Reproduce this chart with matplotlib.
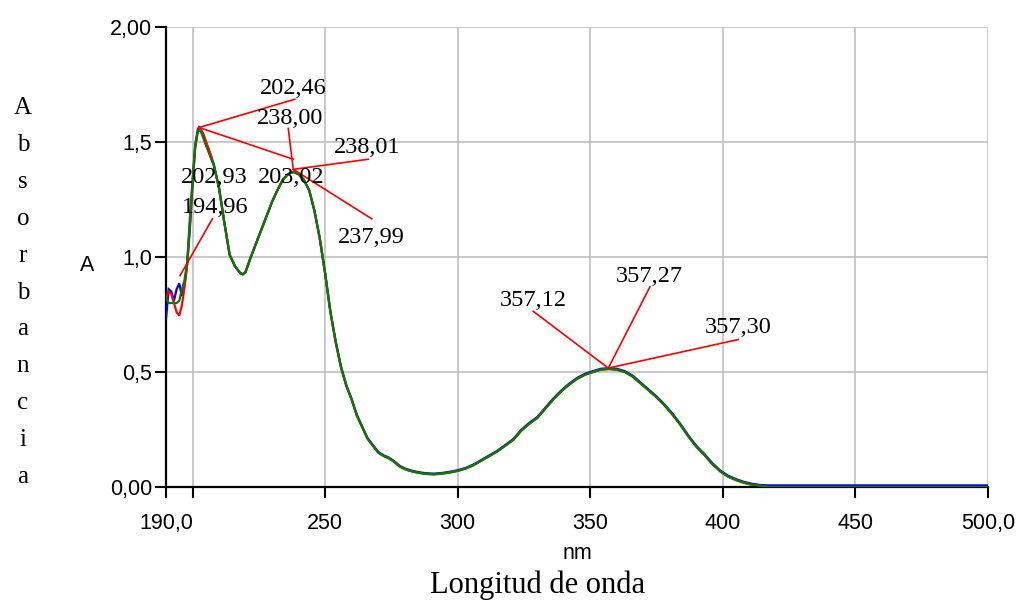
import matplotlib
matplotlib.use("Agg")
import matplotlib.pyplot as plt
from matplotlib.transforms import ScaledTranslation

# ---------------- data ----------------
wavelength = [190, 191, 192, 193, 194, 195, 196, 197, 198, 199, 200, 201, 202,
              202.5, 203, 204, 205, 206, 207, 208,
              210, 212, 214, 216, 218, 219, 220,
              222, 224, 226, 228, 230, 232, 234, 236, 238, 240, 242, 244, 246, 248, 250,
              252, 254, 256, 258, 260, 262, 264, 266, 268, 270, 272, 274, 276, 278, 280, 282,
              285, 288, 291, 294, 297, 300, 303, 306, 309, 312, 315, 318, 321, 324, 327,
              330, 333, 336, 339, 342, 345, 348, 351, 354, 357, 360, 363, 366, 369, 372,
              375, 378, 381, 384, 387, 390, 393, 396, 399, 402, 405, 408, 411, 414, 417,
              420, 450, 500]

abs_blue = [0.73, 0.86, 0.85, 0.81, 0.86, 0.885, 0.83, 0.88, 0.97, 1.12, 1.32, 1.48, 1.555,
            1.565, 1.56, 1.53, 1.495, 1.465, 1.435, 1.405,
            1.30, 1.15, 1.01, 0.96, 0.93, 0.925, 0.935,
            1.00, 1.06, 1.12, 1.18, 1.24, 1.29, 1.335, 1.36, 1.37, 1.36, 1.335, 1.29, 1.20, 1.08, 0.93,
            0.763, 0.633, 0.523, 0.443, 0.383, 0.313, 0.263, 0.213, 0.183, 0.153, 0.138, 0.128, 0.113, 0.093, 0.081, 0.073,
            0.065, 0.060, 0.058, 0.061, 0.066, 0.073, 0.083, 0.098, 0.118, 0.138, 0.158, 0.183, 0.209, 0.249, 0.279,
            0.304, 0.344, 0.384, 0.419, 0.449, 0.474, 0.492, 0.504, 0.514, 0.517, 0.514, 0.504, 0.484, 0.454, 0.424,
            0.394, 0.359, 0.319, 0.274, 0.224, 0.179, 0.144, 0.104, 0.072, 0.049, 0.034, 0.022, 0.014, 0.009, 0.007,
            0.007, 0.007, 0.007]

abs_red = [0.82, 0.85, 0.84, 0.80, 0.76, 0.745, 0.79, 0.87, 0.97, 1.14, 1.31, 1.47, 1.55,
           1.56, 1.555, 1.525, 1.49, 1.46, 1.43, 1.40,
           1.30, 1.15, 1.01, 0.96, 0.93, 0.925, 0.935,
           1.00, 1.06, 1.12, 1.18, 1.24, 1.29, 1.335, 1.36, 1.37, 1.36, 1.335, 1.29, 1.20, 1.08, 0.93,
           0.76, 0.63, 0.52, 0.44, 0.38, 0.31, 0.26, 0.21, 0.18, 0.15, 0.135, 0.125, 0.11, 0.09, 0.078, 0.07,
           0.062, 0.057, 0.055, 0.058, 0.063, 0.07, 0.08, 0.095, 0.115, 0.135, 0.155, 0.18, 0.205, 0.245, 0.275,
           0.30, 0.34, 0.38, 0.415, 0.445, 0.47, 0.488, 0.50, 0.51, 0.513, 0.51, 0.50, 0.48, 0.45, 0.42,
           0.39, 0.355, 0.315, 0.27, 0.22, 0.175, 0.14, 0.10, 0.068, 0.045, 0.03, 0.018, 0.01, 0.006, 0.0,
           0.0, 0.0, 0.0]

abs_green = [0.82, 0.80, 0.80, 0.80, 0.80, 0.81, 0.86, 0.90, 0.98, 1.17, 1.33, 1.49, 1.545,
             1.55, 1.55, 1.52, 1.49, 1.46, 1.43, 1.40,
             1.30, 1.15, 1.01, 0.96, 0.93, 0.925, 0.935,
             1.00, 1.06, 1.12, 1.18, 1.24, 1.29, 1.335, 1.36, 1.37, 1.36, 1.335, 1.29, 1.20, 1.08, 0.93,
             0.76, 0.63, 0.52, 0.44, 0.38, 0.31, 0.26, 0.21, 0.18, 0.15, 0.135, 0.125, 0.11, 0.09, 0.078, 0.07,
             0.062, 0.057, 0.055, 0.058, 0.063, 0.07, 0.08, 0.095, 0.115, 0.135, 0.155, 0.18, 0.205, 0.245, 0.275,
             0.30, 0.34, 0.38, 0.415, 0.445, 0.47, 0.488, 0.50, 0.51, 0.513, 0.51, 0.50, 0.48, 0.45, 0.42,
             0.39, 0.355, 0.315, 0.27, 0.22, 0.175, 0.14, 0.10, 0.068, 0.045, 0.03, 0.018, 0.01, 0.006, 0.0,
             0.0, 0.0, 0.0]

# peak annotations: label, leader start (x, y), leader end (x, y), label position (x, baseline y)
ann_labels = ["202,46", "238,00", "238,01", "203,02", "202,93", "194,96", "237,99",
              "357,12", "357,27", "357,30"]
ann_start_x = [202.5, 238.0, 238.0, 202.5, 204.0, 195.3, 238.0, 356.8, 356.8, 356.8]
ann_start_y = [1.563, 1.381, 1.381, 1.563, 1.541, 0.919, 1.381, 0.517, 0.517, 0.517]
ann_end_x = [238.6, 236.1, 266.3, 238.0, 207.5, 207.5, 267.6, 328.5, 372.5, 405.8]
ann_end_y = [1.686, 1.559, 1.425, 1.425, 1.428, 1.166, 1.166, 0.764, 0.870, 0.641]
ann_text_x = [238.0, 236.8, 265.7, 237.1, 208.2, 208.5, 267.6, 328.5, 372.2, 405.8]
ann_text_y = [1.708, 1.577, 1.454, 1.320, 1.320, 1.193, 1.062, 0.786, 0.892, 0.670]

x_ticks = [190, 200, 250, 300, 350, 400, 450, 500]
x_tick_labels = ["190,0", "", "250", "300", "350", "400", "450", "500,0"]
y_ticks = [0.0, 0.5, 1.0, 1.5, 2.0]
y_tick_labels = ["0,00", "0,5", "1,0", "1,5", "2,00"]

# ---------------- figure ----------------
W, H = 1019, 602
fig = plt.figure(figsize=(W / 100, H / 100), dpi=100)
ax = fig.add_axes([166 / W, 1 - 487 / H, (988 - 166) / W, (487 - 27) / H])

sans = "Liberation Sans"
serif = "Liberation Serif"

ax.plot(wavelength, abs_blue, color="#0000ff", lw=1.6, zorder=3, solid_joinstyle="miter")
ax.plot(wavelength, abs_red, color="#ff0000", lw=1.6, zorder=3.1, solid_joinstyle="miter")
ax.plot(wavelength, abs_green, color="#008000", lw=1.6, zorder=3.2, solid_joinstyle="miter")

for i, lab in enumerate(ann_labels):
    ax.plot([ann_start_x[i], ann_end_x[i]], [ann_start_y[i], ann_end_y[i]],
            color="#ff0000", lw=1.2, zorder=4, clip_on=False)
    ax.text(ann_text_x[i], ann_text_y[i], lab, ha="center", va="baseline",
            family=serif, fontsize=17.5, color="black", zorder=5)

ax.set_xlim(190, 500)
ax.set_ylim(0, 2.0)
ax.set_xticks(x_ticks)
ax.set_xticklabels(x_tick_labels, family=sans, fontsize=15.5)
ax.set_yticks(y_ticks)
ax.set_yticklabels(y_tick_labels, family=sans, fontsize=15.5)
off = ScaledTranslation(0, 5 / 100, fig.dpi_scale_trans)
for t in ax.get_yticklabels():
    t.set_transform(t.get_transform() + off)

ax.tick_params(axis="x", direction="out", length=8, width=1.5, pad=11, color="black")
ax.tick_params(axis="y", direction="out", length=8, width=1.5, pad=2, color="black")

ax.grid(True, color="#c0c0c0", lw=1.2, zorder=0)
ax.set_axisbelow(True)
for s in ["top", "right"]:
    ax.spines[s].set_visible(False)
for s in ["left", "bottom"]:
    ax.spines[s].set_linewidth(1.6)
    ax.spines[s].set_color("black")

# axis texts
fig.text(87.5 / W, 1 - 265 / H, "A", ha="center", va="center", family=sans, fontsize=15.5)
fig.text(577 / W, 1 - 553.5 / H, "nm", ha="center", va="center", family=sans, fontsize=15.5)
fig.text(538 / W, 1 - 593 / H, "Longitud de onda", ha="center", va="baseline",
         family=serif, fontsize=22)

ylabel_letters = list("Absorbancia")
for i, ch in enumerate(ylabel_letters):
    fig.text(23 / W, 1 - (114 + i * 36.9) / H, ch, ha="center", va="baseline",
             family=serif, fontsize=18)

fig.savefig("out.png", dpi=100)
